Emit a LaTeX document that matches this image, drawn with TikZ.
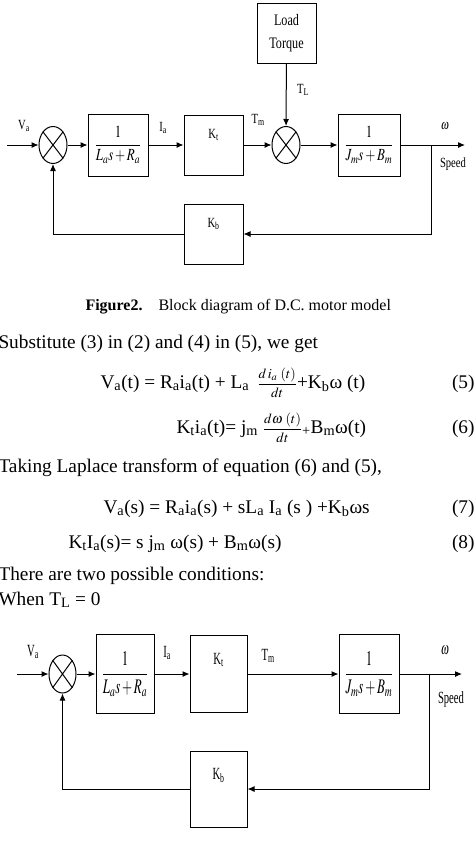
\documentclass[tikz,border=0pt]{standalone}
\usepackage{amsmath}
\usepackage{graphicx}
\usepackage{mathptmx}
\usepackage{fontspec}
\setmainfont{Liberation Serif}
\usetikzlibrary{arrows.meta,positioning,shapes.geometric}
\newcommand{\sqz}[1]{\scalebox{0.76}[1]{#1}}
\newcommand{\sqzt}[1]{\scalebox{0.76}[1.22]{#1}}

\begin{document}
\begin{tikzpicture}[x=1pt,y=-1pt,line width=1pt,font=\fontsize{14}{16}\selectfont]
    \tikzset{blok/.style={draw,minimum width=59pt,minimum height=61pt,inner sep=1pt,font=\fontsize{17}{19}\selectfont},
      sumj/.style={draw,ellipse,minimum width=28pt,minimum height=37pt,inner sep=0pt},
      sig/.style={-{Latex[length=7pt,width=6pt]}},
      para/.style={anchor=base west,inner sep=0pt,font=\fontsize{19.3}{23}\selectfont},
      eqno/.style={para,anchor=base east}}
    \useasboundingbox (0,0) rectangle (475,857);
    % first diagram
    \node[sumj] (s1) at (53,145) {};
    \draw (s1.north west) -- (s1.south east) (s1.north east) -- (s1.south west);
    \node[blok,minimum width=60pt,minimum height=62pt] (g1) at (118,145) {\sqz{$\dfrac{1}{L_a s+R_a}$}};
    \node[blok,minimum height=60pt] (kt1) at (213.5,145) {};
    \node[below=11pt of kt1.north] (kt1l) {\sqz{K\textsubscript{t}}};
    \node[sumj] (s2) at (286,145) {};
    \draw (s2.north west) -- (s2.south east) (s2.north east) -- (s2.south west);
    \node[blok,minimum height=60pt,align=center,font=\fontsize{16}{23}\selectfont] (lt) at (286.5,33) {\sqz{Load}\\\sqz{Torque}};
    \node[blok,minimum width=62pt,minimum height=62pt] (g3) at (369,145) {\sqz{$\dfrac{1}{J_m s+B_m}$}};
    \node[blok,minimum height=60pt] (kb1) at (213.5,234) {};
    \node[below=11pt of kb1.north] (kb1l) {\sqz{K\textsubscript{b}}};
    \coordinate (in1) at (7,145);
    \coordinate (br1) at (431,145);
    \coordinate (out1) at (465,145);
    \draw[sig] (in1) -- (s1);
    \draw[sig] (s1) -- (g1);
    \draw[sig] (g1) -- (kt1);
    \draw[sig] (kt1) -- (s2);
    \draw[sig] (lt) -- (s2);
    \draw[sig] (s2) -- (g3);
    \draw[sig] (g3) -- (out1);
    \draw[sig] (br1) |- (kb1);
    \draw[sig] (kb1) -| (s1);
    \node (va1) at (24,126) {\sqz{V\textsubscript{a}}};
    \node (ia1) at (163,128) {\sqz{I\textsubscript{a}}};
    \node (tm1) at (258,120) {\sqz{T\textsubscript{m}}};
    \node (tl1) at (303,90) {\sqz{T\textsubscript{L}}};
    \node (w1) at (445,126) {\sqz{$\omega$}};
    \node (sp1) at (453,164) {\sqz{Speed}};
    \node[anchor=base west,inner sep=0pt,font=\fontsize{16}{18}\selectfont] (cap) at (85,310) {\textbf{Figure2.}\quad Block diagram of D.C. motor model};
    % text and equations
    \node[para] (t1) at (-2,348) {Substitute (3) in (2) and (4) in (5), we get};
    \node[para] (e5) at (100,388) {V\textsubscript{a}(t) = R\textsubscript{a}i\textsubscript{a}(t) + L\textsubscript{a} \,{\fontsize{14}{16}\selectfont$\dfrac{d\,i_a\;(t)}{dt}$}+K\textsubscript{b}ω (t)};
    \node[eqno] (n5) at (475,388) {(5)};
    \node[para] (e6) at (176,433) {K\textsubscript{t}i\textsubscript{a}(t)= j\textsubscript{m} {\fontsize{14}{16}\selectfont$\dfrac{d\omega\;(t)}{dt}$}\textsubscript{+}B\textsubscript{m}ω(t)};
    \node[eqno] (n6) at (475,433) {(6)};
    \node[para] (t2) at (-2,472) {Taking Laplace transform of equation (6) and (5),};
    \node[para] (e7) at (103,513) {V\textsubscript{a}(s) = R\textsubscript{a}i\textsubscript{a}(s) + sL\textsubscript{a} I\textsubscript{a} (s ) +K\textsubscript{b}ωs};
    \node[eqno] (n7) at (475,513) {(7)};
    \node[para] (e8) at (68,548) {K\textsubscript{t}I\textsubscript{a}(s)= s j\textsubscript{m} ω(s) + B\textsubscript{m}ω(s)};
    \node[eqno] (n8) at (475,548) {(8)};
    \node[para] (t3) at (-2,580) {There are two possible conditions:};
    \node[para] (t4) at (-2,605) {When T\textsubscript{L} = 0};
    % second diagram
    \node[sumj,minimum width=27pt,minimum height=38pt] (s3) at (62.5,674) {};
    \draw (s3.north west) -- (s3.south east) (s3.north east) -- (s3.south west);
    \node[blok,minimum width=58pt,minimum height=79pt] (g4) at (125,674) {\sqzt{$\dfrac{1}{L_a s+R_a}$}};
    \node[blok,minimum width=57pt,minimum height=77pt] (kt2) at (218.5,674) {};
    \node[below=14pt of kt2.north] (kt2l) {\sqzt{K\textsubscript{t}}};
    \node[blok,minimum width=60pt,minimum height=79pt] (g5) at (369,674) {\sqzt{$\dfrac{1}{J_m s+B_m}$}};
    \node[blok,minimum width=57pt,minimum height=76pt] (kb2) at (218.5,789) {};
    \node[below=14pt of kb2.north] (kb2l) {\sqzt{K\textsubscript{b}}};
    \coordinate (in2) at (17,674);
    \coordinate (br2) at (429,674);
    \coordinate (out2) at (462,674);
    \draw[sig] (in2) -- (s3);
    \draw[sig] (s3) -- (g4);
    \draw[sig] (g4) -- (kt2);
    \draw[sig] (kt2) -- (g5);
    \draw[sig] (g5) -- (out2);
    \draw[sig] (br2) |- (kb2);
    \draw[sig] (kb2) -| (s3);
    \node (va2) at (33,652) {\sqzt{V\textsubscript{a}}};
    \node (ia2) at (167,653) {\sqzt{I\textsubscript{a}}};
    \node (tm2) at (268,656) {\sqzt{T\textsubscript{m}}};
    \node (w2) at (445,650) {\sqzt{$\omega$}};
    \node (sp2) at (451,699) {\sqzt{Speed}};
\end{tikzpicture}
\end{document}
